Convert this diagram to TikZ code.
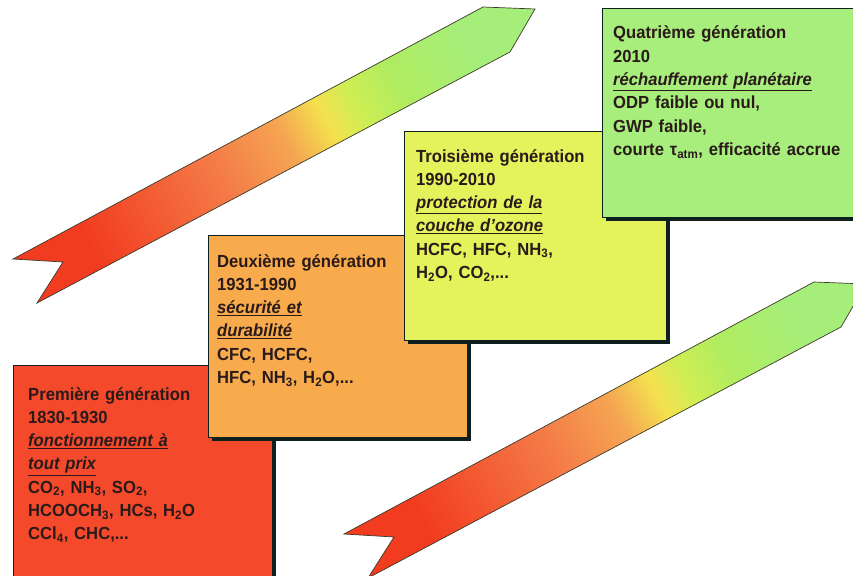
\documentclass[tikz,border=0pt]{standalone}
\usepackage{fontspec}
\setmainfont{Liberation Sans}[FakeStretch=0.95]
\usetikzlibrary{shadows}

\definecolor{genred}{HTML}{F4492B}
\definecolor{genorange}{HTML}{F8AB4C}
\definecolor{genyellow}{HTML}{E4F35C}
\definecolor{gengreen}{HTML}{A8EE7C}
\definecolor{edge}{HTML}{0E1F1F}
\definecolor{ink}{HTML}{2A1A1A}
\definecolor{arrowline}{HTML}{3A3A2A}

\definecolor{ga}{HTML}{F23C20}
\definecolor{gb}{HTML}{F47D48}
\definecolor{gc}{HTML}{F5A552}
\definecolor{gd}{HTML}{F4E14E}
\definecolor{ge}{HTML}{CDEE55}
\definecolor{gf}{HTML}{B0EC60}
\definecolor{gg}{HTML}{A6EE7A}

% red -> orange -> yellow -> green along the ribbon
\pgfdeclarehorizontalshading{ribbon}{100bp}{%
  color(0bp)=(ga); color(27bp)=(ga); color(44bp)=(gb); color(52bp)=(gc);
  color(57bp)=(gd); color(61bp)=(ge); color(66bp)=(gf); color(75bp)=(gg);
  color(100bp)=(gg)}

\tikzset{
  genbox/.style={draw=edge, line width=0.8pt, inner sep=0pt, anchor=north west,
    drop shadow={shadow xshift=4pt, shadow yshift=-4pt, fill=edge, opacity=1}},
  gentext/.style={anchor=base west, inner sep=0pt, text width=255pt, align=left,
    font=\fontsize{17.5}{23.3}\selectfont\bfseries, text=ink},
  ribbonstyle/.style={draw=arrowline, line width=0.7pt, line join=miter,
    shading=ribbon, shading angle=28},
}

\newcommand{\aim}[1]{\underline{\itshape #1}}

\begin{document}
\begin{tikzpicture}[x=1pt, y=-1pt]
  \useasboundingbox (0,0) rectangle (853,575);
  \clip (0,0) rectangle (853,575);

  % the two ribbons
  \path[ribbonstyle] (13,259) -- (483,7) -- (535,9) -- (510,52)
        -- (37,303) -- (63,262) -- cycle;
  \path[ribbonstyle, shift={(331,275)}] (13,259) -- (483,7) -- (535,9) -- (510,52)
        -- (37,303) -- (63,262) -- cycle;

  % first generation
  \node[genbox, fill=genred, minimum width=259pt, minimum height=240pt] (g1) at (13,365) {};
  \node[gentext] (t1) at (28,400) {Première génération\\
    1830-1930\\
    \aim{fonctionnement à}\\
    \aim{tout prix}\\
    CO\textsubscript{2}, NH\textsubscript{3}, SO\textsubscript{2},\\
    HCOOCH\textsubscript{3}, HCs, H\textsubscript{2}O\\
    CCl\textsubscript{4}, CHC,...};

  % second generation
  \node[genbox, fill=genorange, minimum width=259pt, minimum height=202pt] (g2) at (208,235) {};
  \node[gentext] (t2) at (217,267) {Deuxième génération\\
    1931-1990\\
    \aim{sécurité et}\\
    \aim{durabilité}\\
    CFC, HCFC,\\
    HFC, NH\textsubscript{3}, H\textsubscript{2}O,...};

  % third generation
  \node[genbox, fill=genyellow, minimum width=262pt, minimum height=209pt] (g3) at (404,131) {};
  \node[gentext] (t3) at (416,162) {Troisième génération\\
    1990-2010\\
    \aim{protection de la}\\
    \aim{couche d'ozone}\\
    HCFC, HFC, NH\textsubscript{3},\\
    H\textsubscript{2}O, CO\textsubscript{2},...};

  % fourth generation
  \node[genbox, fill=gengreen, minimum width=270pt, minimum height=209pt] (g4) at (602,8) {};
  \node[gentext] (t4) at (613,39) {Quatrième génération\\
    2010\\
    \aim{réchauffement planétaire}\\
    ODP faible ou nul,\\
    GWP faible,\\
    courte τ\textsubscript{atm}, efficacité accrue};
\end{tikzpicture}
\end{document}
